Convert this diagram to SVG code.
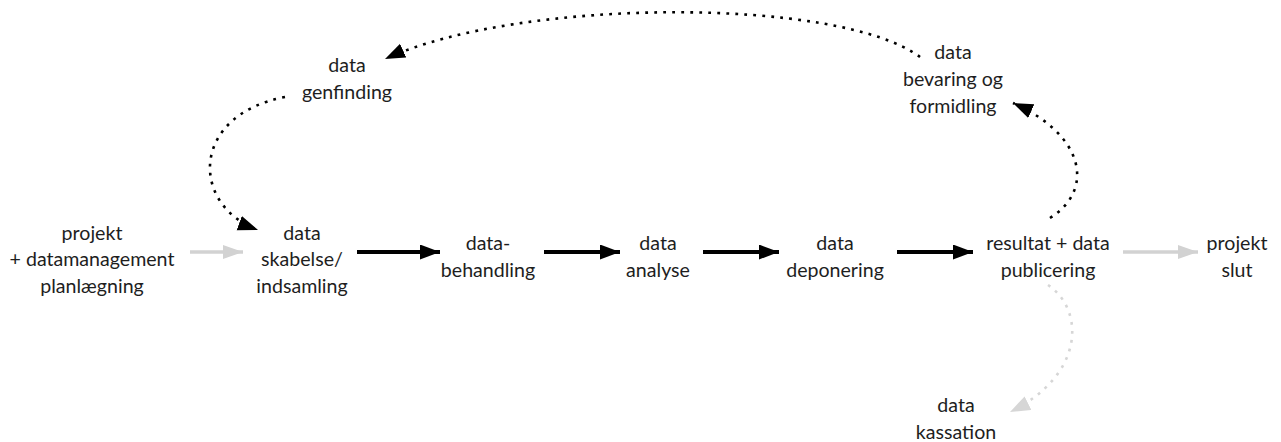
<svg xmlns="http://www.w3.org/2000/svg" width="1281" height="442" viewBox="0 0 1281 442">
<style>
text{font-family:Lato,"Open Sans","Liberation Sans",sans-serif;font-size:19.6px;fill:#1e1e1e;text-anchor:middle}
.solid{stroke:#000;stroke-width:4;fill:none}
.gray{stroke:#d2d2d2;stroke-width:3.5;fill:none}
.dot{stroke:#000;stroke-width:2.6;fill:none;stroke-dasharray:2.8 6.2}
.gdot{stroke:#d6d6d6;stroke-width:2.6;fill:none;stroke-dasharray:2.8 6.2}
</style>
<defs>
<marker id="ah" markerUnits="userSpaceOnUse" markerWidth="22" markerHeight="16" refX="20" refY="7.5" orient="auto"><path d="M0,0 L20,7.5 L0,15 z" fill="#000"/></marker>
<marker id="ahg" markerUnits="userSpaceOnUse" markerWidth="22" markerHeight="16" refX="20" refY="7" orient="auto"><path d="M0,0 L20,7 L0,14 z" fill="#d2d2d2"/></marker>
<marker id="ahd" markerUnits="userSpaceOnUse" markerWidth="22" markerHeight="16" refX="20" refY="7.5" orient="auto"><path d="M0,0 L20,7.5 L0,15 z" fill="#000"/></marker>
<marker id="ahdg" markerUnits="userSpaceOnUse" markerWidth="22" markerHeight="16" refX="20" refY="7.5" orient="auto"><path d="M0,0 L20,7.5 L0,15 z" fill="#d6d6d6"/></marker>
</defs>
<g id="connectors">
<line class="gray" x1="190" y1="252" x2="243" y2="252" marker-end="url(#ahg)"/>
<line class="solid" x1="357" y1="252" x2="440" y2="252" marker-end="url(#ah)"/>
<line class="solid" x1="544" y1="252" x2="620" y2="252" marker-end="url(#ah)"/>
<line class="solid" x1="703" y1="252" x2="779" y2="252" marker-end="url(#ah)"/>
<line class="solid" x1="897" y1="252" x2="973" y2="252" marker-end="url(#ah)"/>
<line class="gray" x1="1123" y1="252" x2="1198" y2="252" marker-end="url(#ahg)"/>
<path class="dot" d="M920,57 C840,-3 520,-3 385,59" marker-end="url(#ahd)"/>
<path class="dot" d="M285,97 C190,115 190,205 258,230" marker-end="url(#ahd)"/>
<path class="dot" d="M1050,218 C1095,190 1085,135 1013,103" marker-end="url(#ahd)"/>
<path class="gdot" d="M1048,285 C1085,310 1085,375 1010,412" marker-end="url(#ahdg)"/>
</g>
<g id="n-projekt"><text x="92" y="240">projekt</text><text x="92" y="266">+ datamanagement</text><text x="92" y="293">planlægning</text></g>
<g id="n-skabelse"><text x="302" y="240">data</text><text x="302" y="266">skabelse/</text><text x="302" y="293">indsamling</text></g>
<g id="n-behandling"><text x="488" y="250">data-</text><text x="488" y="277">behandling</text></g>
<g id="n-analyse"><text x="658" y="250">data</text><text x="658" y="277">analyse</text></g>
<g id="n-deponering"><text x="835" y="250">data</text><text x="835" y="277">deponering</text></g>
<g id="n-publicering"><text x="1048" y="250">resultat + data</text><text x="1048" y="277">publicering</text></g>
<g id="n-slut"><text x="1237" y="250">projekt</text><text x="1237" y="277">slut</text></g>
<g id="n-genfinding"><text x="347" y="72">data</text><text x="347" y="99">genfinding</text></g>
<g id="n-bevaring"><text x="953" y="59">data</text><text x="953" y="86">bevaring og</text><text x="953" y="113">formidling</text></g>
<g id="n-kassation"><text x="956" y="412">data</text><text x="956" y="439">kassation</text></g>
</svg>
